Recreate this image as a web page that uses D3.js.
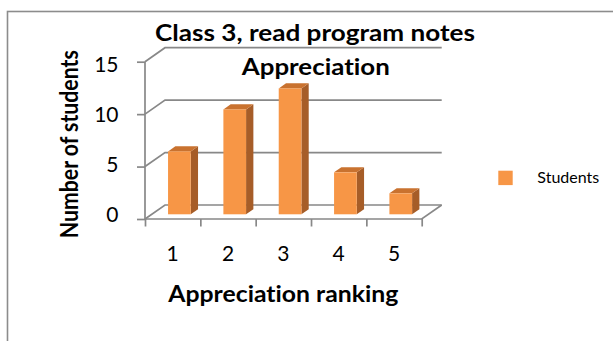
<!DOCTYPE html>
<html>
<head>
<meta charset="utf-8">
<script src="https://cdn.jsdelivr.net/npm/d3@7"></script>
<style>
  html, body { margin: 0; padding: 0; background: #fff; }
  svg { display: block; font-family: Lato, "Open Sans", sans-serif; font-variant-ligatures: none; font-feature-settings: "liga" 0, "clig" 0; }
</style>
</head>
<body>
<svg id="chart" width="613" height="341"></svg>
<script>
// Class 3 appreciation rankings (students who read the program notes)
const categories = ["1", "2", "3", "4", "5"];
const students = [6, 10, 12, 4, 2];
const yTicks = [0, 5, 10, 15];
const titleLines = ["Class 3, read program notes", "Appreciation"];
const xTitle = "Appreciation ranking";
const yTitle = "Number of students";
const seriesName = "Students";

const svg = d3.select("#chart");

// outer frame of the chart area
svg.append("rect")
  .attr("x", 7.5).attr("y", 11.5)
  .attr("width", 640).attr("height", 360)
  .attr("fill", "none").attr("stroke", "#8c8c8c").attr("stroke-width", 1.6);

// plot geometry: front floor edge, depth offset of the back wall
const left = 145, right = 421.7;
const depth = { dx: 20, dy: -14 };
const off = t => [depth.dx * t, depth.dy * t];

const x = d3.scaleBand().domain(categories).range([left, right]).paddingInner(0);
const xEdge = d3.scaleLinear().domain([0, categories.length]).range([left, right]);
const y = d3.scaleLinear().domain([0, 15]).range([219, 61.7]);

const grid = "#888888";
const gW = 1.7;

// back-wall and side-wall gridlines
const g = svg.append("g");
yTicks.forEach(v => {
  const [bx, by] = off(1);
  g.append("polyline")
    .attr("points", [[left, y(v)], [left + bx, y(v) + by], [right + bx, y(v) + by]].map(p => p.join(",")).join(" "))
    .attr("fill", "none").attr("stroke", grid).attr("stroke-width", gW);
});

// floor outline: front edge and right edge
{
  const [bx, by] = off(1);
  g.append("polyline")
    .attr("points", [[left, y(0)], [right, y(0)], [right + bx, y(0) + by]].map(p => p.join(",")).join(" "))
    .attr("fill", "none").attr("stroke", grid).attr("stroke-width", gW);
}

// value axis (front-left edge) with outward ticks
const yAxis = svg.append("g")
  .attr("transform", `translate(${left},0)`)
  .call(d3.axisLeft(y).tickValues(yTicks).tickSize(8).tickFormat(""));
yAxis.selectAll("path, line").attr("stroke", grid).attr("stroke-width", gW);
yAxis.select(".domain").attr("d", `M0,${y(0)}V${y(15)}`);

// category axis ticks at band edges
const xAxis = svg.append("g")
  .attr("transform", `translate(0,${y(0)})`)
  .call(d3.axisBottom(xEdge).ticks(categories.length).tickSize(7.5).tickFormat(""));
xAxis.select(".domain").remove();
xAxis.selectAll("line").attr("stroke", grid).attr("stroke-width", gW);

// value tick labels
const yLab = d3.scaleLinear().domain([0, 15]).range([221.7, 71.7]);
svg.append("g").selectAll("text").data(yTicks).join("text")
  .attr("x", 118.5).attr("y", d => yLab(d))
  .attr("text-anchor", "end")
  .attr("font-size", 21).attr("fill", "#000")
  .text(d => d);

// category labels
svg.append("g").selectAll("text").data(categories).join("text")
  .attr("x", d => x(d) + x.bandwidth() / 2).attr("y", 260.7)
  .attr("text-anchor", "middle")
  .attr("font-size", 21).attr("fill", "#000")
  .text(d => d);

// 3-D columns
const barW = x.bandwidth() * 0.41;
const [fx, fy] = off(0.336);      // front face sits a third of the way back
const [sx, sy] = off(0.365);      // column depth
const cFront = "#f79646", cSide = "#a65d28", cTop = "#c9722f";
const bars = svg.append("g");
categories.forEach((c, i) => {
  const x0 = x(c) + (x.bandwidth() - barW) / 2 + fx;
  const x1 = x0 + barW;
  const yb = y(0) + fy;
  const yt = y(students[i]) + fy;
  const gb = bars.append("g");
  gb.append("polygon")
    .attr("points", [[x1, yt], [x1 + sx, yt + sy], [x1 + sx, yb + sy], [x1, yb]].map(p => p.join(",")).join(" "))
    .attr("fill", cSide);
  gb.append("polygon")
    .attr("points", [[x0, yt], [x0 + sx, yt + sy], [x1 + sx, yt + sy], [x1, yt]].map(p => p.join(",")).join(" "))
    .attr("fill", cTop);
  gb.append("rect")
    .attr("x", x0).attr("y", yt).attr("width", barW).attr("height", yb - yt)
    .attr("fill", cFront);
});

// text set at a given size and squeezed to a given run length
function label(sel, size, width) {
  return sel.attr("font-size", size)
    .attr("textLength", width).attr("lengthAdjust", "spacingAndGlyphs");
}

// title
label(svg.append("text").attr("x", 315).attr("y", 41.3)
  .attr("text-anchor", "middle").attr("font-weight", "bold")
  .text(titleLines[0]), 23, 320);
label(svg.append("text").attr("x", 315.8).attr("y", 75)
  .attr("text-anchor", "middle").attr("font-weight", "bold")
  .text(titleLines[1]), 23, 148);

// axis titles
label(svg.append("text").attr("x", 283.3).attr("y", 302.3)
  .attr("text-anchor", "middle").attr("font-weight", "bold")
  .text(xTitle), 23.5, 230);
label(svg.append("text")
  .attr("transform", "translate(78.3,144.2) rotate(-90)")
  .attr("text-anchor", "middle").attr("font-weight", "bold")
  .text(yTitle), 24, 188);

// legend
svg.append("rect").attr("x", 498.3).attr("y", 170.7).attr("width", 14.4).attr("height", 14.4)
  .attr("fill", cFront);
label(svg.append("text").attr("x", 537.3).attr("y", 183.3)
  .attr("fill", "#000").text(seriesName), 16, 62);
</script>
</body>
</html>
